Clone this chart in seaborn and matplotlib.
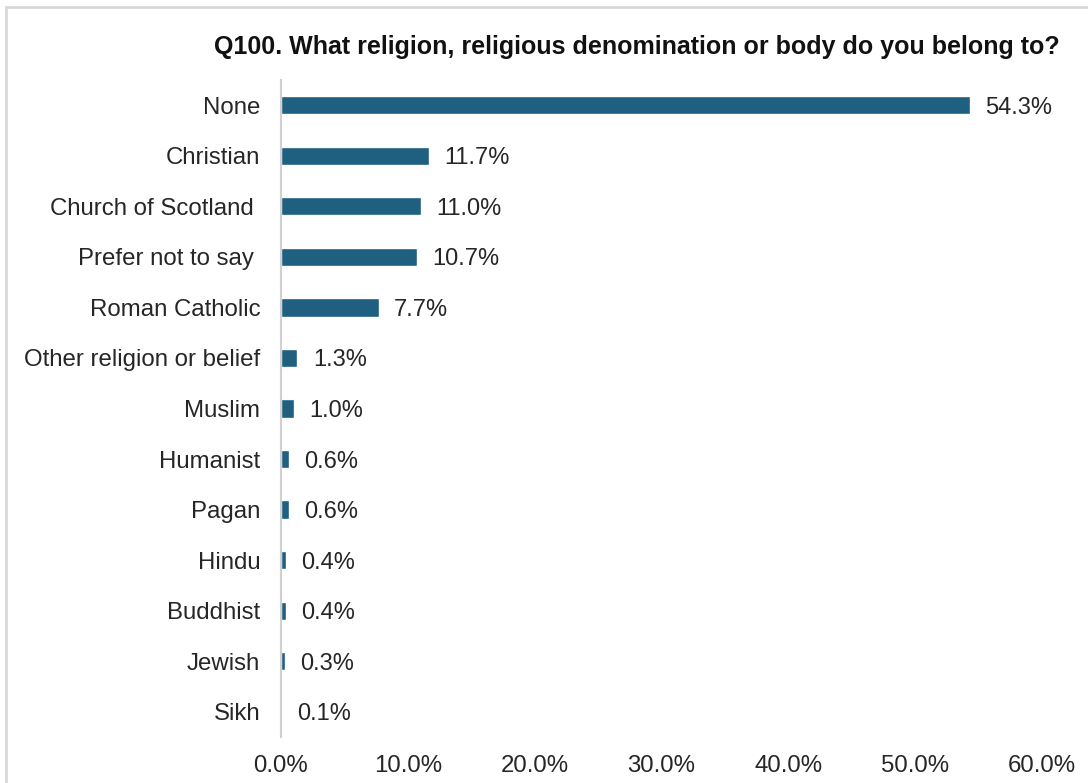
import pandas as pd
import matplotlib.pyplot as plt
import seaborn as sns
from matplotlib.patches import Rectangle

# Survey answers
categories = ['None', 'Christian', 'Church of Scotland ', 'Prefer not to say ',
              'Roman Catholic', 'Other religion or belief', 'Muslim', 'Humanist',
              'Pagan', 'Hindu', 'Buddhist', 'Jewish', 'Sikh']
percentages = [54.3, 11.7, 11.0, 10.7, 7.7, 1.3, 1.0, 0.6, 0.6, 0.4, 0.4, 0.3, 0.1]
x_ticks = [0, 10, 20, 30, 40, 50, 60]

BAR_COLOR = '#1F5F80'

df = pd.DataFrame({'Religion': categories, 'Percent': percentages})

sns.set_theme(style='white')
plt.rcParams['font.family'] = ['Liberation Sans', 'DejaVu Sans']

fig = plt.figure(figsize=(10.88, 7.83), dpi=100)
ax = fig.add_axes([281 / 1088, 1 - 737 / 783, (1042 - 281) / 1088, (737 - 80) / 783])

sns.barplot(data=df, x='Percent', y='Religion', orient='h', color=BAR_COLOR,
            width=0.36, saturation=1, ax=ax)

# value labels next to each bar
for i, v in enumerate(percentages):
    ax.annotate(f'{v:.1f}%', xy=(v, i), xytext=(11, 0), textcoords='offset points',
                ha='left', va='center_baseline', fontsize=17, color='#262626')

ax.set_xlim(0, 60)
ax.set_ylim(len(categories) - 0.5, -0.5)
ax.set_xticks(x_ticks)
ax.set_xticklabels([f'{t:.1f}%' for t in x_ticks])
ax.set_xlabel('')
ax.set_ylabel('')
ax.tick_params(axis='both', length=0, labelsize=17.3, colors='#262626')
ax.tick_params(axis='y', pad=15)
ax.tick_params(axis='x', pad=13)

for side in ['top', 'right', 'bottom']:
    ax.spines[side].set_visible(False)
ax.spines['left'].set_color('#D0D0D0')
ax.spines['left'].set_linewidth(1.5)

fig.text(637 / 1088, 1 - 47 / 783,
         'Q100. What religion, religious denomination or body do you belong to?',
         ha='center', va='center', fontsize=18, fontweight='bold', color='#111111')

# light frame around the figure (only top/left visible in the reference)
fig.patches.append(Rectangle((6 / 1088, -0.1), 1.2, 1 - 7 / 783 + 0.1,
                             transform=fig.transFigure, fill=False,
                             edgecolor='#D9D9D9', linewidth=2))

fig.savefig('out.png', dpi=100)
